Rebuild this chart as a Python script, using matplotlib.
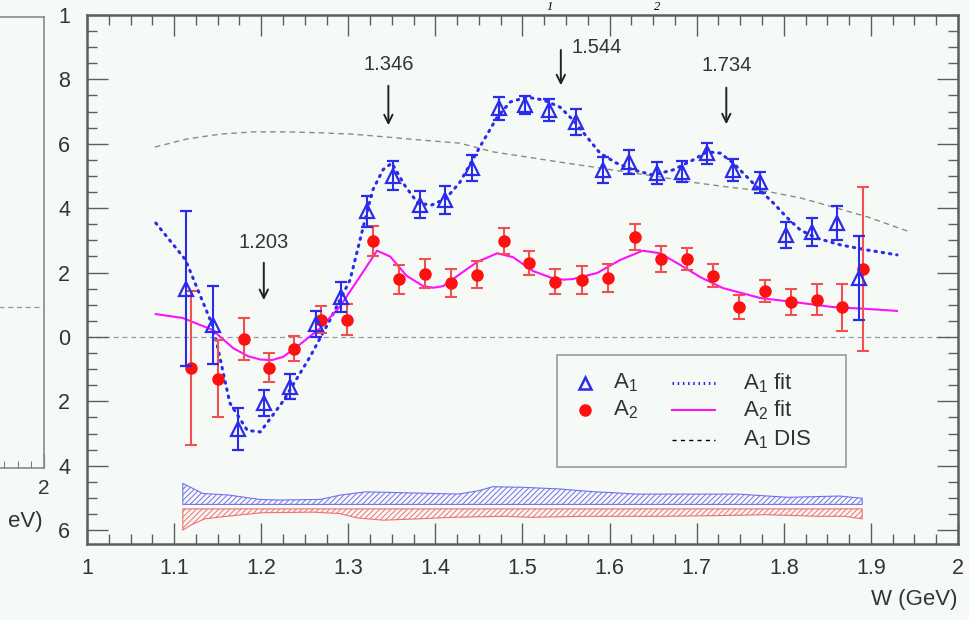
import matplotlib
matplotlib.use('Agg')
import matplotlib.pyplot as plt
from matplotlib.ticker import MultipleLocator, FixedLocator, FixedFormatter
from matplotlib.patches import Rectangle

plt.rcParams['font.family'] = ['Liberation Sans', 'DejaVu Sans']
plt.rcParams['mathtext.fontset'] = 'custom'
plt.rcParams['mathtext.rm'] = 'Liberation Sans'
plt.rcParams['mathtext.it'] = 'Liberation Sans:italic'
plt.rcParams['hatch.linewidth'] = 0.7

# A1 data (triangles)
w_a1 = [1.114, 1.145, 1.173, 1.203, 1.233, 1.263, 1.292, 1.321, 1.351, 1.382,
        1.411, 1.442, 1.473, 1.503, 1.530, 1.561, 1.592, 1.622, 1.654, 1.683,
        1.712, 1.742, 1.773, 1.803, 1.832, 1.861, 1.886]
a1 = [0.15, 0.037, -0.286, -0.205, -0.155, 0.04, 0.124, 0.39, 0.50, 0.41,
      0.425, 0.525, 0.71, 0.72, 0.705, 0.668, 0.519, 0.544, 0.509, 0.513,
      0.571, 0.519, 0.48, 0.317, 0.326, 0.354, 0.183]
a1_err = [0.24, 0.12, 0.064, 0.04, 0.039, 0.04, 0.047, 0.047, 0.045, 0.042,
          0.044, 0.04, 0.035, 0.028, 0.035, 0.04, 0.04, 0.037, 0.034, 0.033,
          0.033, 0.034, 0.033, 0.04, 0.042, 0.054, 0.13]

# A2 data (circles)
w_a2 = [1.119, 1.150, 1.180, 1.209, 1.238, 1.269, 1.299, 1.328, 1.358, 1.388,
        1.418, 1.448, 1.479, 1.507, 1.537, 1.568, 1.598, 1.629, 1.659, 1.689,
        1.719, 1.749, 1.778, 1.808, 1.838, 1.867, 1.891]
a2 = [-0.096, -0.13, -0.006, -0.096, -0.037, 0.053, 0.053, 0.298, 0.18, 0.196,
      0.168, 0.193, 0.298, 0.23, 0.171, 0.177, 0.183, 0.311, 0.242, 0.242,
      0.19, 0.093, 0.143, 0.108, 0.115, 0.093, 0.21]
a2_err = [0.24, 0.12, 0.065, 0.045, 0.039, 0.042, 0.048, 0.047, 0.045, 0.045,
          0.043, 0.042, 0.04, 0.036, 0.039, 0.042, 0.043, 0.04, 0.039, 0.034,
          0.036, 0.036, 0.035, 0.04, 0.048, 0.073, 0.255]

# fits
w_fit1 = [1.079, 1.113, 1.145, 1.164, 1.184, 1.199, 1.225, 1.256, 1.279, 1.302,
          1.317, 1.328, 1.340, 1.350, 1.365, 1.380, 1.396, 1.412, 1.428, 1.451,
          1.471, 1.486, 1.505, 1.524, 1.543, 1.558, 1.574, 1.589, 1.608, 1.627,
          1.650, 1.673, 1.696, 1.712, 1.727, 1.742, 1.761, 1.776, 1.788, 1.804,
          1.819, 1.838, 1.865, 1.896, 1.930]
a1_fit = [0.354, 0.24, 0.03, -0.205, -0.29, -0.295, -0.2, -0.062, 0.053, 0.177,
          0.34, 0.456, 0.52, 0.54, 0.47, 0.415, 0.41, 0.43, 0.48, 0.59,
          0.683, 0.73, 0.745, 0.736, 0.714, 0.674, 0.621, 0.571, 0.54, 0.519,
          0.503, 0.519, 0.55, 0.575, 0.571, 0.54, 0.488, 0.447, 0.416, 0.37,
          0.332, 0.307, 0.286, 0.27, 0.255]

w_fit2 = [1.079, 1.110, 1.144, 1.168, 1.185, 1.199, 1.212, 1.225, 1.245, 1.268,
          1.290, 1.313, 1.333, 1.348, 1.367, 1.386, 1.398, 1.409, 1.428, 1.448,
          1.471, 1.489, 1.512, 1.535, 1.547, 1.558, 1.586, 1.612, 1.638, 1.658,
          1.681, 1.704, 1.730, 1.773, 1.819, 1.856, 1.896, 1.930]
a2_fit = [0.071, 0.059, 0.022, -0.035, -0.06, -0.07, -0.072, -0.062, -0.022, 0.028,
          0.093, 0.186, 0.268, 0.25, 0.19, 0.158, 0.153, 0.158, 0.195, 0.233,
          0.26, 0.248, 0.205, 0.182, 0.178, 0.18, 0.199, 0.239, 0.268, 0.26,
          0.224, 0.186, 0.152, 0.121, 0.106, 0.093, 0.087, 0.081]

# A1 DIS
w_dis = [1.078, 1.115, 1.153, 1.191, 1.230, 1.268, 1.305, 1.382, 1.428, 1.466,
         1.505, 1.543, 1.581, 1.620, 1.658, 1.696, 1.735, 1.781, 1.819, 1.856,
         1.896, 1.945]
a1_dis = [0.59, 0.615, 0.63, 0.637, 0.637, 0.634, 0.63, 0.612, 0.602, 0.575,
          0.559, 0.543, 0.528, 0.512, 0.497, 0.48, 0.466, 0.452, 0.432, 0.404,
          0.373, 0.326]

# systematic bands
w_sys1 = [1.11, 1.116, 1.133, 1.163, 1.198, 1.221, 1.268, 1.291, 1.32, 1.367,
          1.426, 1.449, 1.466, 1.501, 1.542, 1.583, 1.607, 1.63, 1.688, 1.747,
          1.782, 1.805, 1.864, 1.89]
sys1 = [0.065, 0.057, 0.034, 0.029, 0.0155, 0.0135, 0.0155, 0.029, 0.039, 0.036,
        0.032, 0.042, 0.055, 0.053, 0.048, 0.039, 0.036, 0.032, 0.032, 0.032,
        0.026, 0.022, 0.026, 0.019]
sys1_base = -0.52

w_sys2 = [1.11, 1.12, 1.135, 1.16, 1.2, 1.26, 1.29, 1.31, 1.34, 1.38, 1.42,
          1.48, 1.51, 1.57, 1.66, 1.72, 1.78, 1.84, 1.87, 1.89]
sys2 = [0.066, 0.049, 0.031, 0.023, 0.012, 0.010, 0.0145, 0.028, 0.035, 0.031,
        0.026, 0.023, 0.026, 0.023, 0.023, 0.021, 0.018, 0.023, 0.023, 0.031]
sys2_base = -0.534

arrow_w = [1.203, 1.346, 1.544, 1.734]
arrow_lbl = ['1.203', '1.346', '1.544', '1.734']

yticks = [-0.6, -0.4, -0.2, 0, 0.2, 0.4, 0.6, 0.8, 1.0]
ylabels = ['6', '4', '2', '0', '2', '4', '6', '8', '1']
xticks = [1, 1.1, 1.2, 1.3, 1.4, 1.5, 1.6, 1.7, 1.8, 1.9, 2]
xlabels = ['1', '1.1', '1.2', '1.3', '1.4', '1.5', '1.6', '1.7', '1.8', '1.9', '2']

bg = '#f6faf7'
frame = '#5e5e5e'
txt = '#333333'
blue = '#2b2bea'
red = '#ff1010'
red_err = '#f25050'
magenta = '#ff10ff'
fit1_ls = (0, (0.5, 1.9))

fig = plt.figure(figsize=(9.7, 6.2), dpi=100, facecolor=bg)

# partially visible left panel
axl = fig.add_axes([-0.5, 1 - 468 / 620, 0.5 + 44 / 970, (468 - 17) / 620])
axl.set_facecolor(bg)
axl.set_xlim(1, 2)
axl.set_ylim(-0.5, 0.9)
axl.axhline(0, color='#999999', lw=0.9, ls=(0, (4, 3)))
axl.xaxis.set_major_locator(FixedLocator([2]))
axl.xaxis.set_major_formatter(FixedFormatter(['2']))
axl.xaxis.set_minor_locator(MultipleLocator(0.025))
axl.tick_params(axis='x', which='both', direction='in', colors=frame,
                labelcolor=txt, labelsize=15, pad=8)
axl.tick_params(axis='x', which='minor', length=5)
axl.tick_params(axis='x', which='major', length=10)
axl.set_yticks([])
for s in axl.spines.values():
    s.set_color('#8a8a8a')
    s.set_linewidth(1.2)
fig.text(43 / 970, 1 - 522 / 620, 'eV)', ha='right', va='center',
         fontsize=16, color=txt)

# main panel
ax = fig.add_axes([87 / 970, 1 - 544 / 620, (958 - 87) / 970, (544 - 15) / 620])
ax.set_facecolor(bg)
ax.set_xlim(1, 2)
ax.set_ylim(-0.643, 1.0)

ax.axhline(0, color='#999999', lw=0.9, ls=(0, (4, 3)), zorder=1)

ax.plot(w_dis, a1_dis, color='#8a8a8a', lw=1.0, ls=(0, (4, 3)), zorder=2)
ax.plot(w_fit1, a1_fit, color=blue, lw=2.2, ls=fit1_ls,
        dash_capstyle='round', zorder=3)
ax.plot(w_fit2, a2_fit, color=magenta, lw=1.5, zorder=3)

ax.errorbar(w_a1, a1, yerr=a1_err, fmt='^', ms=9.5, mfc='none', mec=blue,
            mew=1.6, ecolor=blue, elinewidth=1.5, capsize=4, capthick=1.5,
            zorder=5)
ax.errorbar(w_a2, a2, yerr=a2_err, fmt='o', ms=8, mfc=red, mec=red,
            ecolor=red_err, elinewidth=1.5, capsize=4, capthick=1.5, zorder=4)

ax.fill_between(w_sys1, sys1_base, [sys1_base + h for h in sys1],
                facecolor='none', edgecolor='#7070f0', hatch='//////', lw=0.8)
ax.fill_between(w_sys2, [sys2_base - h for h in sys2], sys2_base,
                facecolor='none', edgecolor='#f07070', hatch='//////', lw=0.8)

# arrows
arrow_tip = [0.106, 0.649, 0.773, 0.652]
arrow_top = [0.239, 0.789, 0.90, 0.783]
label_y = [0.292, 0.845, 0.90, 0.842]
for i, (w, lbl) in enumerate(zip(arrow_w, arrow_lbl)):
    ax.annotate('', xy=(w, arrow_tip[i]), xytext=(w, arrow_top[i]),
                arrowprops=dict(arrowstyle='->,head_length=0.6,head_width=0.3',
                                color='#222222', lw=1.4))
    if lbl == '1.544':
        ax.text(w + 0.012, label_y[i], lbl, ha='left', va='center',
                fontsize=14.5, color=txt)
    else:
        ax.text(w, label_y[i], lbl, ha='center', va='center',
                fontsize=14.5, color=txt)

# ticks
ax.xaxis.set_major_locator(FixedLocator(xticks))
ax.xaxis.set_major_formatter(FixedFormatter(xlabels))
ax.xaxis.set_minor_locator(MultipleLocator(0.025))
ax.yaxis.set_major_locator(FixedLocator(yticks))
ax.yaxis.set_major_formatter(FixedFormatter(ylabels))
ax.yaxis.set_minor_locator(MultipleLocator(0.05))
ax.tick_params(which='both', direction='in', top=True, right=True,
               colors=frame, labelcolor=txt, labelsize=15.5)
ax.tick_params(which='major', length=15, width=1.0)
ax.tick_params(which='minor', length=7, width=1.0)
ax.tick_params(axis='x', pad=10)
ax.tick_params(axis='y', pad=12)
for s in ax.spines.values():
    s.set_color(frame)
    s.set_linewidth(1.8)

ax.text(1.0, -0.085, 'W (GeV)', transform=ax.transAxes, ha='right',
        va='top', fontsize=16, color=txt)

# legend box
ax.add_patch(Rectangle((0.5396, 0.1456), 0.3318, 0.2117, transform=ax.transAxes,
                       facecolor=bg, edgecolor='#9a9a9a', lw=1.2, zorder=6))
ax.plot([0.5718], [0.3043], '^', ms=9, mfc='none', mec=blue, mew=1.8,
        transform=ax.transAxes, zorder=7)
ax.plot([0.5718], [0.2533], 'o', ms=8, color=red, transform=ax.transAxes, zorder=7)
ax.plot([0.6716, 0.7210], [0.3043, 0.3043], color=blue, lw=2.2,
        ls=(0, (0.5, 1.2)), transform=ax.transAxes, zorder=7)
ax.plot([0.6716, 0.7210], [0.2533, 0.2533], color=magenta, lw=1.5,
        transform=ax.transAxes, zorder=7)
ax.plot([0.6716, 0.7210], [0.1966, 0.1966], color='black', lw=1.0,
        ls=(0, (3, 3)), transform=ax.transAxes, zorder=7)
leg_txt = [(0.6039, 0.3043, r'A$_1$'), (0.6039, 0.2533, r'A$_2$'),
           (0.7532, 0.3043, r'A$_1$ fit'), (0.7532, 0.2533, r'A$_2$ fit'),
           (0.7532, 0.1966, r'A$_1$ DIS')]
for x, y, s in leg_txt:
    ax.text(x, y, s, transform=ax.transAxes, ha='left', va='center',
            fontsize=16, color=txt, zorder=7)

# title subscripts, only their lower part shows in the reference
fig.text(550 / 970, 1 - 1 / 620, '1', ha='center', va='top', fontsize=9,
         style='italic', family='Liberation Serif', color='black')
fig.text(657 / 970, 1 - 1 / 620, '2', ha='center', va='top', fontsize=9,
         style='italic', family='Liberation Serif', color='black')

fig.savefig('out.png', dpi=100, facecolor=bg)
